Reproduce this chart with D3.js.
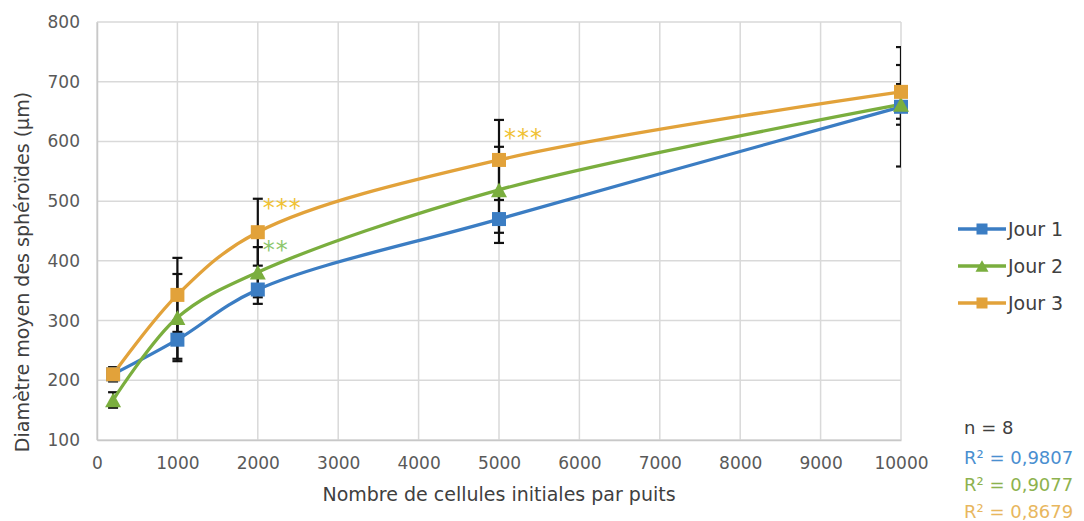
<!DOCTYPE html>
<html>
<head>
<meta charset="utf-8">
<script src="https://cdn.jsdelivr.net/npm/d3@7"></script>
<style>
  body { margin: 0; background: #fff; }
  text { font-family: "DejaVu Sans", "Liberation Sans", Arial, sans-serif; }
</style>
</head>
<body>
<svg id="chart" width="1084" height="521"></svg>
<script>
// data
const cellCounts = [200, 1000, 2000, 5000, 10000];
const jour1 = [210, 268, 352, 470, 658];
const jour2 = [167, 305, 381, 519, 662];
const jour3 = [210, 343, 448, 569, 683];
const err1 = [12, 32, 24, 40, 100];
const err2 = [13, 73, 42, 72, 34];
const err3 = [10, 62, 56, 67, 45];
const seriesNames = ['Jour 1', 'Jour 2', 'Jour 3'];
const seriesColors = ['#3b7dc3', '#7aae3e', '#e2a23a'];
const xTicks = d3.range(0, 10001, 1000);
const yTicks = d3.range(100, 801, 100);
const stars = [
  {x: 2000, y: 494, label: '***', color: '#f0c233'},
  {x: 2000, y: 423, label: '**', color: '#8ec76c'},
  {x: 5000, y: 611, label: '***', color: '#f0c233'}
];
const notes = [
  {label: 'n = 8', color: '#404040'},
  {label: 'R² = 0,9807', color: '#4a8fd0'},
  {label: 'R² = 0,9077', color: '#8db24e'},
  {label: 'R² = 0,8679', color: '#e8b75e'}
];

const series = [
  {name: seriesNames[0], values: jour1, err: err1, color: seriesColors[0], shape: 'square'},
  {name: seriesNames[1], values: jour2, err: err2, color: seriesColors[1], shape: 'triangle'},
  {name: seriesNames[2], values: jour3, err: err3, color: seriesColors[2], shape: 'square'}
];

let svg = d3.select('#chart');
let plotLeft = 97, plotRight = 901, plotTop = 22, plotBottom = 440;

let x = d3.scaleLinear().domain([0, 10000]).range([plotLeft, plotRight]);
let y = d3.scaleLinear().domain([100, 800]).range([plotBottom, plotTop]);

svg.append('defs').append('clipPath').attr('id', 'plot-clip')
  .append('rect')
  .attr('x', plotLeft).attr('y', plotTop - 40)
  .attr('width', plotRight - plotLeft).attr('height', plotBottom - plotTop + 80);

// grid lines
svg.append('g').selectAll('line')
  .data(yTicks)
  .enter()
  .append('line')
    .attr('x1', plotLeft).attr('x2', plotRight)
    .attr('y1', d => y(d)).attr('y2', d => y(d))
    .style('stroke', '#d9d9d9')
    .style('stroke-width', 1.5);

svg.append('g').selectAll('line')
  .data(xTicks)
  .enter()
  .append('line')
    .attr('x1', d => x(d)).attr('x2', d => x(d))
    .attr('y1', plotTop).attr('y2', plotBottom)
    .style('stroke', '#d9d9d9')
    .style('stroke-width', 1.5);

// axes
let xAxis = svg.append('g')
  .attr('transform', `translate(0,${plotBottom})`)
  .call(d3.axisBottom(x).tickValues(xTicks).tickSize(0).tickPadding(17).tickFormat(d3.format('d')));
let yAxis = svg.append('g')
  .attr('transform', `translate(${plotLeft},0)`)
  .call(d3.axisLeft(y).tickValues(yTicks).tickSize(0).tickPadding(17));

[xAxis, yAxis].forEach(a => {
  a.select('.domain').style('stroke', '#c8c8c8').style('stroke-width', 1.5);
  a.selectAll('text')
    .style('font-family', '"DejaVu Sans", sans-serif')
    .style('font-size', '17px')
    .style('fill', '#595959');
});

svg.append('text')
  .attr('x', (plotLeft + plotRight) / 2)
  .attr('y', 501)
  .attr('text-anchor', 'middle')
  .style('font-size', '19px')
  .style('fill', '#404040')
  .text('Nombre de cellules initiales par puits');

svg.append('text')
  .attr('transform', 'translate(29,272) rotate(-90)')
  .attr('text-anchor', 'middle')
  .style('font-size', '19px')
  .style('fill', '#404040')
  .text('Diamètre moyen des sphéroïdes (µm)');

// error bars
let errG = svg.append('g').attr('clip-path', 'url(#plot-clip)');
series.forEach(s => {
  s.values.forEach((v, i) => {
    let cx = x(cellCounts[i]);
    let y1 = y(v + s.err[i]), y2 = y(v - s.err[i]);
    errG.append('line')
      .attr('x1', cx).attr('x2', cx).attr('y1', y1).attr('y2', y2)
      .style('stroke', '#111').style('stroke-width', 2.2);
    [y1, y2].forEach(yy => {
      errG.append('line')
        .attr('x1', cx - 5).attr('x2', cx + 5).attr('y1', yy).attr('y2', yy)
        .style('stroke', '#111').style('stroke-width', 2.2);
    });
  });
});

// smoothed lines
let line = d3.line()
  .x(d => x(d[0]))
  .y(d => y(d[1]))
  .curve(d3.curveCatmullRom.alpha(0.5));

series.forEach(s => {
  svg.append('path')
    .attr('d', line(cellCounts.map((c, i) => [c, s.values[i]])))
    .style('fill', 'none')
    .style('stroke', s.color)
    .style('stroke-width', 3.3);
});

function drawMarker(g, shape, cx, cy, color, size) {
  if (shape === 'square') {
    g.append('rect')
      .attr('x', cx - size / 2).attr('y', cy - size / 2)
      .attr('width', size).attr('height', size)
      .style('fill', color);
  } else {
    let h = size * 1.05;
    g.append('path')
      .attr('d', `M${cx},${cy - h / 2}L${cx + size / 2 + 1},${cy + h / 2}L${cx - size / 2 - 1},${cy + h / 2}Z`)
      .style('fill', color);
  }
}

let markerG = svg.append('g');
series.forEach(s => {
  s.values.forEach((v, i) => {
    drawMarker(markerG, s.shape, x(cellCounts[i]), y(v), s.color, 14);
  });
});

// significance stars
svg.append('g').selectAll('text')
  .data(stars)
  .enter()
  .append('text')
    .attr('x', d => x(d.x) + 5)
    .attr('y', d => y(d.y) + 11)
    .style('font-size', '24px')
    .style('letter-spacing', '1px')
    .style('fill', d => d.color)
    .text(d => d.label);

// legend
let legend = svg.append('g');
series.forEach((s, i) => {
  let ly = 229 + i * 37;
  legend.append('line')
    .attr('x1', 958).attr('x2', 1006).attr('y1', ly).attr('y2', ly)
    .style('stroke', s.color).style('stroke-width', 3.3);
  drawMarker(legend, s.shape, 982, ly, s.color, 11);
  legend.append('text')
    .attr('x', 1008).attr('y', ly + 7)
    .style('font-size', '19px')
    .style('fill', '#404040')
    .text(s.name);
});

svg.append('g').selectAll('text')
  .data(notes)
  .enter()
  .append('text')
    .attr('x', 964)
    .attr('y', (d, i) => i === 0 ? 434 : 437 + i * 27)
    .style('font-size', '18px')
    .style('fill', d => d.color)
    .text(d => d.label);
</script>
</body>
</html>
